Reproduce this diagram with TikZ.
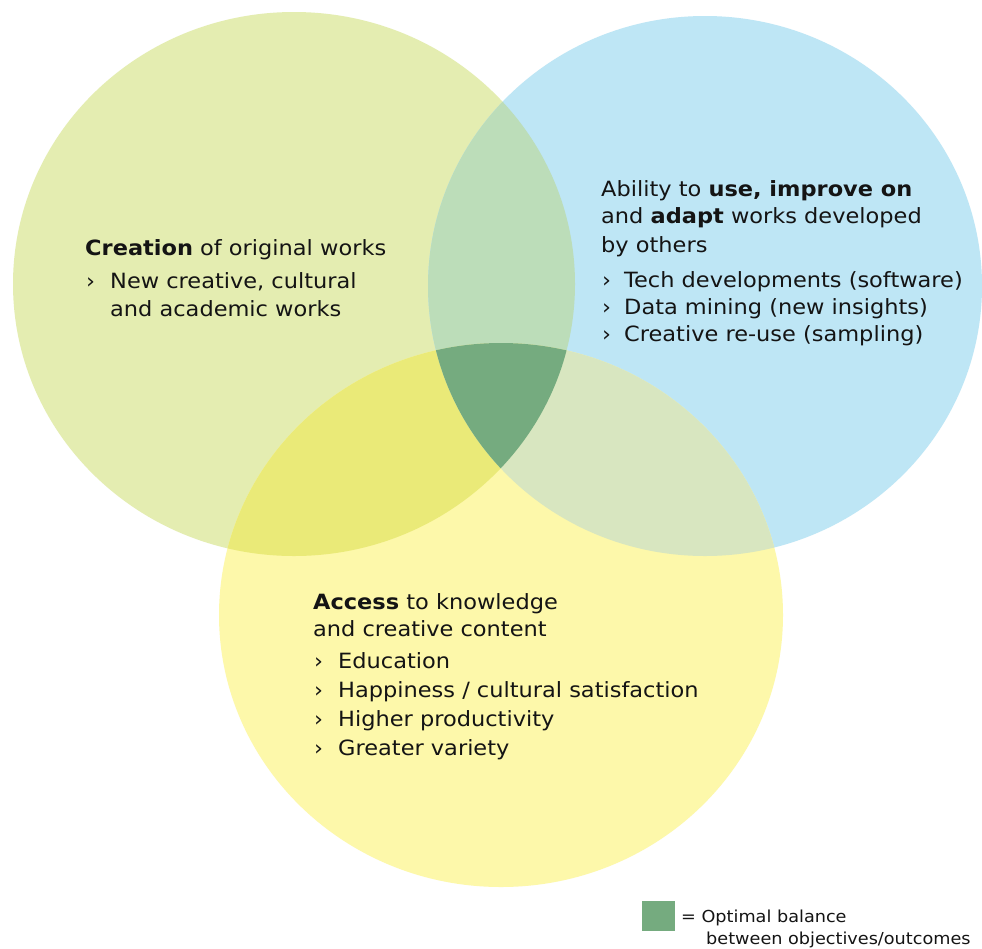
\documentclass[tikz,border=0pt]{standalone}
\usepackage{fontspec}
\setmainfont[FakeStretch=1.07]{DejaVu Sans}
\definecolor{cL}{HTML}{E4EDB1}
\definecolor{cR}{HTML}{BEE6F5}
\definecolor{cB}{HTML}{FDF8AA}
\definecolor{cLR}{HTML}{BCDDB9}
\definecolor{cLB}{HTML}{EAEA78}
\definecolor{cRB}{HTML}{D8E6C0}
\definecolor{cC}{HTML}{75AB7F}
\definecolor{cT}{HTML}{141414}
\tikzset{
  txt/.style={anchor=base west, inner sep=0pt, text=cT, font=\fontsize{21}{24}\selectfont},
  legtxt/.style={anchor=base west, inner sep=0pt, text=cT, font=\fontsize{16.5}{20}\selectfont},
}
\begin{document}
\begin{tikzpicture}[x=1pt,y=-1pt]
\useasboundingbox (0,0) rectangle (982,948);
\fill[white] (0,0) rectangle (982,948);
% base circles
\fill[cL] (294,284) ellipse [x radius=281, y radius=272];
\fill[cR] (705,286) ellipse [x radius=277, y radius=270];
\fill[cB] (501,615) ellipse [x radius=282, y radius=272];
% overlaps
\begin{scope}
\clip (294,284) ellipse [x radius=281, y radius=272];
\fill[cLR] (705,286) ellipse [x radius=277, y radius=270];
\fill[cLB] (501,615) ellipse [x radius=282, y radius=272];
\end{scope}
\begin{scope}
\clip (705,286) ellipse [x radius=277, y radius=270];
\fill[cRB] (501,615) ellipse [x radius=282, y radius=272];
\end{scope}
\begin{scope}
\clip (294,284) ellipse [x radius=281, y radius=272];
\clip (705,286) ellipse [x radius=277, y radius=270];
\fill[cC] (501,615) ellipse [x radius=282, y radius=272];
\end{scope}
% left block
\node[txt] (l1) at (85,255) {\textbf{Creation} of original works};
\node[txt] (l2b) at (86,288) {›};
\node[txt] (l2) at (110,288) {New creative, cultural};
\node[txt] (l3) at (110,316) {and academic works};
% right block
\node[txt] (r1) at (601,196) {Ability to \textbf{use, improve on}};
\node[txt] (r2) at (601,223) {and \textbf{adapt} works developed};
\node[txt] (r3) at (601,252) {by others};
\node[txt] (r4b) at (602,287) {›};
\node[txt] (r4) at (624,287) {Tech developments (software)};
\node[txt] (r5b) at (602,314) {›};
\node[txt] (r5) at (624,314) {Data mining (new insights)};
\node[txt] (r6b) at (602,341) {›};
\node[txt] (r6) at (624,341) {Creative re-use (sampling)};
% bottom block
\node[txt] (b1) at (313,609) {\textbf{Access} to knowledge};
\node[txt] (b2) at (313,636) {and creative content};
\node[txt] (b3b) at (314,668) {›};
\node[txt] (b3) at (338,668) {Education};
\node[txt] (b4b) at (314,697) {›};
\node[txt] (b4) at (338,697) {Happiness / cultural satisfaction};
\node[txt] (b5b) at (314,726) {›};
\node[txt] (b5) at (338,726) {Higher productivity};
\node[txt] (b6b) at (314,755) {›};
\node[txt] (b6) at (338,755) {Greater variety};
% legend
\fill[cC] (642,901) rectangle (675,931);
\node[legtxt] (g1) at (681,922) {= Optimal balance};
\node[legtxt] (g2) at (706,944) {between objectives/outcomes};
\end{tikzpicture}
\end{document}
